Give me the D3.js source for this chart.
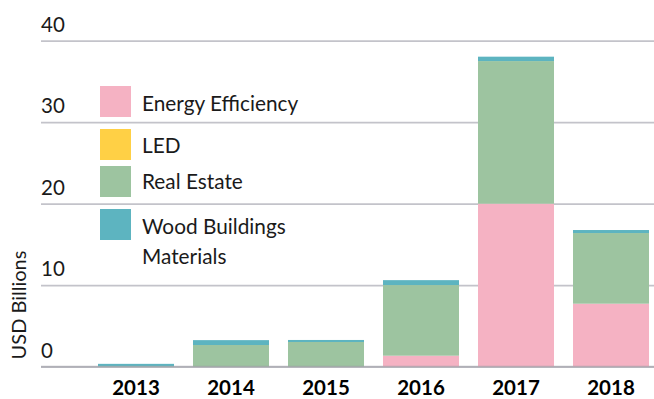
<!DOCTYPE html>
<html>
<head>
<meta charset="utf-8">
<script src="https://cdn.jsdelivr.net/npm/d3@7"></script>
<style>
  html, body { margin: 0; padding: 0; background: #fff; }
  svg { display: block; font-family: Lato, "Open Sans", sans-serif; }
</style>
</head>
<body>
<svg id="chart" width="654" height="399"></svg>
<script>
// Green building investment by segment, USD billions
const years = ["2013", "2014", "2015", "2016", "2017", "2018"];
const energyEfficiency = [0, 0, 0, 1.35, 20.0, 7.73];
const led = [0, 0, 0, 0, 0, 0];
const realEstate = [0.05, 2.66, 3.03, 8.67, 17.5, 8.67];
const woodBuildings = [0.3, 0.6, 0.25, 0.6, 0.54, 0.37];
const yTicks = [0, 10, 20, 30, 40];

const seriesNames = ["Energy Efficiency", "LED", "Real Estate", "Wood Buildings Materials"];
const legendLines = [["Energy Efficiency"], ["LED"], ["Real Estate"], ["Wood Buildings", "Materials"]];
const colors = ["#f5b2c3", "#ffd045", "#9dc4a0", "#5db4c0"];

const rows = years.map((y, i) => ({
  year: y,
  "Energy Efficiency": energyEfficiency[i],
  "LED": led[i],
  "Real Estate": realEstate[i],
  "Wood Buildings Materials": woodBuildings[i]
}));

const svg = d3.select("#chart");

const x = d3.scaleBand().domain(years).range([88.5, 658.5])
  .paddingInner(0.2).paddingOuter(0.1);
const y = d3.scaleLinear().domain([0, 40]).range([366.7, 40.7]);
const color = d3.scaleOrdinal().domain(seriesNames).range(colors);

// Gridlines with labels sitting above each line
const gridLeft = 41, gridRight = 654;
const axis = d3.axisRight(y).tickValues(yTicks).tickSize(gridRight - gridLeft).tickFormat(d3.format("d"));
const g = svg.append("g").attr("transform", `translate(${gridLeft},0)`).call(axis);
g.select(".domain").remove();
g.selectAll(".tick line").attr("stroke", "#c3c3ca").attr("stroke-width", 1.8);
g.selectAll(".tick text")
  .attr("x", 0).attr("y", 0).attr("dy", -9.5)
  .attr("text-anchor", "start")
  .attr("font-size", 20.5).attr("font-family", "Lato, sans-serif")
  .attr("fill", "#1a1a1a");

// Stacked bars
const stacked = d3.stack().keys(seriesNames)(rows);
svg.append("g").selectAll("g").data(stacked).join("g")
  .attr("fill", d => color(d.key))
  .selectAll("rect").data(d => d).join("rect")
  .attr("x", d => x(d.data.year))
  .attr("width", x.bandwidth())
  .attr("y", d => y(d[1]))
  .attr("height", d => Math.max(0, y(d[0]) - y(d[1])));

// Zero line drawn over the bar bases
svg.append("line")
  .attr("x1", gridLeft).attr("x2", gridRight)
  .attr("y1", y(0)).attr("y2", y(0))
  .attr("stroke", "#9a9aa2").attr("stroke-opacity", 0.6).attr("stroke-width", 1.8);

// Year labels
svg.append("g").selectAll("text").data(years).join("text")
  .attr("x", d => x(d) + x.bandwidth() / 2)
  .attr("y", 394.5)
  .attr("text-anchor", "middle")
  .attr("font-size", 20.5).attr("font-weight", 700)
  .attr("fill", "#000")
  .text(d => d);

// Y-axis title
svg.append("text")
  .attr("transform", "translate(26,305) rotate(-90)")
  .attr("text-anchor", "middle")
  .attr("font-size", 20)
  .attr("fill", "#1a1a1a")
  .text("USD Billions");

// Legend
const legendTops = [86, 129, 166, 209];
const legendBaselines = [24.8, 24.3, 23.3, 25];
const legend = svg.append("g").selectAll("g").data(seriesNames).join("g")
  .attr("transform", (d, i) => `translate(100,${legendTops[i]})`);
legend.append("rect")
  .attr("width", 31).attr("height", 31)
  .attr("fill", d => color(d));
legend.append("text")
  .attr("x", 42)
  .attr("font-size", 20.8)
  .attr("fill", "#1a1a1a")
  .each(function (d, i) {
    d3.select(this).selectAll("tspan").data(legendLines[i]).join("tspan")
      .attr("x", 42)
      .attr("y", (t, j) => legendBaselines[i] + j * 30)
      .text(t => t);
  });
</script>
</body>
</html>
